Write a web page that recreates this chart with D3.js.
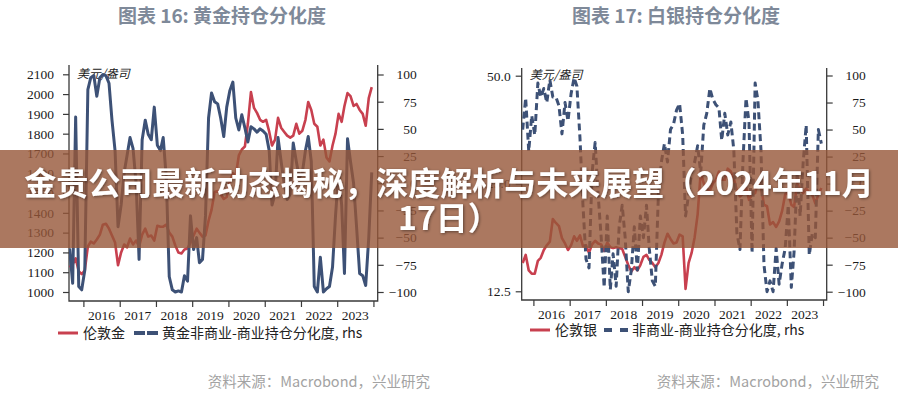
<!DOCTYPE html>
<html>
<head>
<meta charset="utf-8">
<script src="https://cdn.jsdelivr.net/npm/d3@7"></script>
<style>
body { margin: 0; background: #fff; }
svg { display: block; }
</style>
</head>
<body>
<svg id="chart" width="898" height="400"></svg>
<script>
// gold: monthly, Aug 2015 - Dec 2023
var goldStart = [2015, 7];
var goldPrice = [
    1125, 1140, 1170, 1105, 1090,
    1110, 1230, 1255, 1245, 1265, 1290, 1340, 1345, 1320, 1285, 1250, 1135,
    1200, 1240, 1225, 1270, 1240, 1260, 1230, 1290, 1320, 1280, 1285, 1260,
    1335, 1330, 1330, 1340, 1300, 1280, 1235, 1200, 1195, 1215, 1220, 1250,
    1285, 1320, 1300, 1280, 1285, 1360, 1415, 1505, 1510, 1495, 1470, 1480,
    1560, 1600, 1590, 1690, 1720, 1735, 1850, 2010, 1930, 1905, 1870, 1860,
    1870, 1810, 1740, 1770, 1880, 1830, 1810, 1790, 1780, 1790, 1850, 1800,
    1815, 1870, 1960, 1920, 1850, 1835, 1740, 1770, 1680, 1660, 1740, 1800,
    1900, 1860, 1940, 2005, 1990, 1940, 1950, 1920, 1900, 1840, 1980, 2035
];
var goldSpread = [
    -60, -92, 61, -95, -98,
    -80, 86, 97, 99, 80, 97, 100, 99, 92, 58, 30, -40,
    -20, 10, 25, 42, 32, 0, -70, 40, 58, 45, 40, 70,
    35, 30, 42, 5, -86, -98, -100, -99, -100, -85, -90, -30,
    -61, -50, -73, -70, -30, 60, 83, 75, 73, 60, 43, 70,
    85, 93, 60, 49, 63, 51, 38, 52, 50, 47, 50, 48,
    45, 30, -20, -10, 42, 20, 0, -15, -10, 37, 20, 5,
    10, 30, 43, 20, -95, -100, -68, -100, -97, -95, -77, -30,
    10, -20, -83, 41, 20, 0, -40, -83, -85, -94, -50, 10
];

// silver: monthly, Sep 2015 - Dec 2023
var silverStart = [2015, 8];
var silverPrice = [
    15.0, 15.8, 14.3, 14.0,
    14.0, 15.2, 15.5, 16.3, 16.8, 17.2, 19.9, 19.4, 19.0, 17.6, 17.0, 16.3,
    16.8, 17.8, 17.3, 17.9, 16.7, 16.8, 16.0, 16.9, 17.3, 17.0, 16.9, 16.2,
    17.1, 16.6, 16.5, 16.6, 16.5, 16.4, 15.6, 14.8, 14.2, 14.6, 14.3, 14.8,
    15.6, 15.8, 15.3, 15.0, 14.6, 15.0, 15.8, 17.1, 18.1, 17.5, 17.0, 17.1,
    18.0, 17.8, 12.7, 15.0, 16.0, 17.7, 20.5, 26.9, 25.0, 24.2, 23.8, 25.0,
    25.6, 27.0, 25.6, 25.6, 27.5, 27.0, 25.8, 23.9, 23.0, 23.4, 24.4, 22.5,
    23.3, 23.5, 25.4, 24.5, 21.8, 21.6, 19.2, 19.5, 18.9, 19.6, 21.0, 23.3,
    23.6, 21.8, 21.5, 25.0, 24.1, 23.5, 24.2, 23.6, 23.2, 22.0, 23.3, 24.3
];
var silverSpread = [
    50, 79, 30, 63,
    45, 93, 80, 88, 75, 96, 80, 80, 72, 46, 75, 58,
    83, 98, 90, 42, -20, -70, -78, 10, 38, -10, -50, -96,
    -30, -98, -65, -95, -40, -20, -50, -100, -80, -40, -80, -30,
    -50, -20, -60, -90, -95, -10, 20, 37, 20, 50, 55, 68,
    74, 45, -30, -10, 10, 20, 35, 10, 54, 65, 88, 78,
    73, 70, 40, 65, 45, 57, 31, -46, -61, 20, 79, 57,
    -64, 93, 77, 31, -75, -100, -90, -100, -60, -93, -74, -60,
    -20, -96, -63, 10, -30, 20, 54, -66, -46, -50, 50, 37
];

var yearLabels = ["2016", "2017", "2018", "2019", "2020", "2021", "2022", "2023"];
var goldLeftTicks = [1000, 1100, 1200, 1300, 1400, 1500, 1600, 1700, 1800, 1900, 2000, 2100];
var silverLeftTicks = [12.5, 25, 50];
var rightTicks = [-100, -75, -50, -25, 0, 25, 50, 75, 100];

var RED = "#c8404f",
    BLUE = "#3d5176",
    AXIS = "#3a3a3a",
    SERIF = "'Liberation Serif', 'Times New Roman', serif",
    CJK = "'Noto Sans CJK SC', 'Noto Sans', sans-serif";

var svg = d3.select("#chart");

function toRows(start, price, spread) {
    return price.map(function(p, i) {
        return {
            date: new Date(start[0], start[1] + i, 15),
            price: p,
            spread: spread[i]
        };
    });
}

function drawPanel(o) {
    var g = svg.append("g");
    var rows = toRows(o.start, o.price, o.spread);

    var x = d3.scaleTime().domain(o.xDomain).range([o.left, o.right]);
    var yL = (o.log ? d3.scaleLog() : d3.scaleLinear())
        .domain(o.leftDomain).range(o.leftRange);
    var yR = d3.scaleLinear().domain([-100, 100]).range(o.rightRange);

    // title
    g.append("text")
        .attr("x", o.titleX).attr("y", 23)
        .attr("text-anchor", "middle")
        .style("font-family", CJK).style("font-size", "19px")
        .style("font-weight", "bold").style("fill", "#7e8999")
        .text(o.title);

    // axis frame
    g.append("path")
        .attr("d", "M" + o.left + "," + o.top + "V" + o.bottom + "H" + o.right + "V" + o.top)
        .attr("fill", "none").attr("stroke", AXIS).attr("stroke-width", 1.3);

    var left = g.append("g")
        .attr("transform", "translate(" + o.left + ",0)")
        .call(d3.axisLeft(yL).tickValues(o.leftTicks).tickSize(6)
            .tickPadding(o.leftPad).tickFormat(o.leftFormat));

    var right = g.append("g")
        .attr("transform", "translate(" + o.right + ",0)")
        .call(d3.axisRight(yR).tickValues(rightTicks).tickSize(6));
    right.selectAll("text").attr("x", 39).attr("text-anchor", "end");

    var years = yearLabels.map(function(y) { return new Date(+y, 0, 1); });
    years.push(new Date(+yearLabels[yearLabels.length - 1] + 1, 0, 1));
    var bottom = g.append("g")
        .attr("transform", "translate(0," + o.bottom + ")")
        .call(d3.axisBottom(x).tickValues(years).tickSize(6).tickFormat(""));

    [left, right, bottom].forEach(function(a) {
        a.select(".domain").remove();
        a.selectAll("line").attr("stroke", AXIS).attr("stroke-width", 1.2);
        a.selectAll("text")
            .style("font-family", SERIF).style("font-size", "13.5px")
            .attr("fill", "#1a1a1a");
    });

    g.selectAll(".yr")
        .data(yearLabels)
        .enter().append("text")
        .attr("x", function(d) { return x(new Date(+d, 6, 1)); })
        .attr("y", o.bottom + 19)
        .attr("text-anchor", "middle")
        .style("font-family", SERIF).style("font-size", "13.5px")
        .style("fill", "#1a1a1a")
        .text(function(d) { return d; });

    // unit
    g.append("text")
        .attr("x", o.left + 8).attr("y", o.unitY)
        .style("font-family", CJK).style("font-size", "12px")
        .style("font-style", "italic").style("fill", "#222")
        .text("美元/盎司");

    var clipId = "clip" + o.key;
    svg.append("clipPath").attr("id", clipId)
        .append("rect")
        .attr("x", o.left).attr("y", o.top)
        .attr("width", o.right - o.left).attr("height", o.bottom - o.top);

    var plot = g.append("g").attr("clip-path", "url(#" + clipId + ")");

    plot.append("path")
        .datum(rows)
        .attr("fill", "none").attr("stroke", RED)
        .attr("stroke-width", 2.6).attr("stroke-linejoin", "round")
        .attr("d", d3.line()
            .x(function(d) { return x(d.date); })
            .y(function(d) { return yL(d.price); }));

    plot.append("path")
        .datum(rows)
        .attr("fill", "none").attr("stroke", BLUE)
        .attr("stroke-width", 3).attr("stroke-linejoin", "round")
        .attr("stroke-dasharray", o.dashed ? "7,4" : null)
        .attr("d", d3.line()
            .x(function(d) { return x(d.date); })
            .y(function(d) { return yR(d.spread); }));

    // legend
    var lg = g.append("g").attr("transform", "translate(0," + o.legendY + ")");
    lg.append("line")
        .attr("x1", o.legendX).attr("x2", o.legendX + 20)
        .attr("stroke", RED).attr("stroke-width", 3);
    lg.append("text")
        .attr("x", o.legendX + 25).attr("y", 5)
        .style("font-family", CJK).style("font-size", "14px").style("fill", "#222")
        .text(o.redName);
    lg.append("line")
        .attr("x1", o.legendX2).attr("x2", o.legendX2 + 24)
        .attr("stroke", BLUE).attr("stroke-width", 4)
        .attr("stroke-dasharray", o.legendDash);
    lg.append("text")
        .attr("x", o.legendX2 + 28).attr("y", 5)
        .style("font-family", CJK).style("font-size", "14px").style("fill", "#222")
        .text(o.blueName);

    // source
    g.append("text")
        .attr("x", o.sourceX).attr("y", 387)
        .attr("text-anchor", "end")
        .style("font-family", CJK).style("font-size", "14.5px")
        .style("fill", "#a3a3a3")
        .text("资料来源：Macrobond，兴业研究");
}

drawPanel({
    key: "gold",
    title: "图表 16: 黄金持仓分化度",
    titleX: 222,
    start: goldStart, price: goldPrice, spread: goldSpread,
    xDomain: [new Date(2015, 7, 9), new Date(2024, 1, 13)],
    left: 69, right: 377.7, top: 65, bottom: 301, unitY: 78,
    leftDomain: [1000, 2100], leftRange: [292, 74.3],
    leftTicks: goldLeftTicks, leftFormat: d3.format("d"), leftPad: 9,
    rightRange: [292, 74.5],
    log: false, dashed: false,
    legendY: 333, legendX: 58, legendX2: 134, legendDash: "11,2",
    redName: "伦敦金", blueName: "黄金非商业-商业持仓分化度, rhs",
    sourceX: 430
});

drawPanel({
    key: "silver",
    title: "图表 17: 白银持仓分化度",
    titleX: 676,
    start: silverStart, price: silverPrice, spread: silverSpread,
    xDomain: [new Date(2015, 8, 5), new Date(2024, 1, 7)],
    left: 521.7, right: 826.7, top: 68, bottom: 300, unitY: 79,
    leftDomain: [12.5, 50], leftRange: [291.3, 75.7],
    leftTicks: silverLeftTicks, leftFormat: d3.format(".1f"), leftPad: 5,
    rightRange: [291.7, 75.5],
    log: true, dashed: true,
    legendY: 330, legendX: 530, legendX2: 604, legendDash: "8,8",
    redName: "伦敦银", blueName: "非商业-商业持仓分化度, rhs",
    sourceX: 879
});

// headline banner over both charts
var defs = svg.append("defs");
var f = defs.append("filter").attr("id", "shadow")
    .attr("x", "-5%").attr("y", "-20%").attr("width", "110%").attr("height", "140%");
f.append("feDropShadow")
    .attr("dx", 1).attr("dy", 1).attr("stdDeviation", 1.5)
    .attr("flood-color", "#000").attr("flood-opacity", 0.45);

svg.append("rect")
    .attr("x", 0).attr("y", 150).attr("width", 898).attr("height", 98)
    .attr("fill", "rgb(150,86,56)").attr("fill-opacity", 0.8);

var headline = ["金贵公司最新动态揭秘，深度解析与未来展望（2024年11月", "17日）"];
svg.selectAll(".headline")
    .data(headline)
    .enter().append("text")
    .attr("class", "headline")
    .attr("x", 449)
    .attr("y", function(d, i) { return 195 + i * 35; })
    .attr("text-anchor", "middle")
    .attr("filter", "url(#shadow)")
    .style("font-family", CJK).style("font-size", "32px")
    .style("font-weight", "bold").style("fill", "#fff")
    .text(function(d) { return d; });
</script>
</body>
</html>
